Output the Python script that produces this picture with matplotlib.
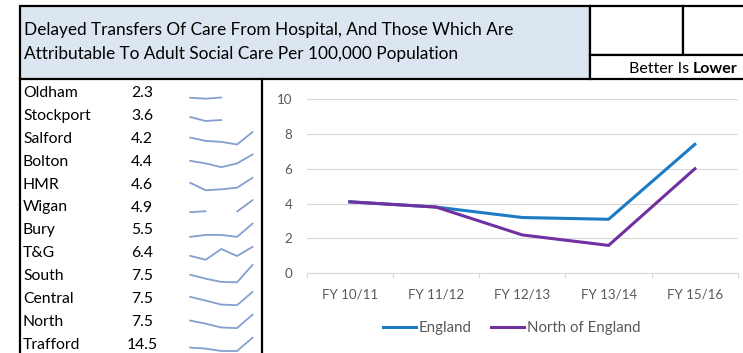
import numpy as np
import matplotlib.pyplot as plt
from matplotlib.patches import Rectangle

plt.rcParams['font.family'] = ['Lato', 'DejaVu Sans']

W, H = 743, 353

# ---------------- data ----------------
title_lines = ['Delayed Transfers Of Care From Hospital, And Those Which Are',
               'Attributable To Adult Social Care Per 100,000 Population']

areas = ['Oldham', 'Stockport', 'Salford', 'Bolton', 'HMR', 'Wigan',
         'Bury', 'T&G', 'South', 'Central', 'North', 'Trafford']
latest = ['2.3', '3.6', '4.2', '4.4', '4.6', '4.9',
          '5.5', '6.4', '7.5', '7.5', '7.5', '14.5']

# sparkline trend per area (relative units, nan = no data)
nan = np.nan
spark_trend = [
    [2.4, 1.9, 2.5, nan, nan],
    [4.2, 2.2, 2.7, nan, nan],
    [5.4, 3.7, 3.2, 1.9, 8.2],
    [5.2, 3.9, 2.0, 3.9, 8.4],
    [5.7, 1.9, 2.4, 3.2, 8.2],
    [2.4, 2.9, nan, 2.7, 8.5],
    [1.5, 2.5, 2.5, 1.5, 8.2],
    [3.5, 1.5, 6.9, 3.4, 8.0],
    [5.5, 3.5, 1.9, 1.7, 10.5],
    [5.9, 4.0, 2.0, 1.7, 8.4],
    [5.5, 3.9, 2.0, 1.7, 8.5],
    [3.4, 2.9, 1.7, 1.7, 8.4],
]

years = ['FY 10/11', 'FY 11/12', 'FY 12/13', 'FY 13/14', 'FY 15/16']
england = [4.1, 3.8, 3.2, 3.1, 7.4]
north_england = [4.1, 3.8, 2.2, 1.6, 6.0]

# ---------------- layout helpers ----------------
fig = plt.figure(figsize=(W / 100, H / 100), dpi=100)


def px_axes(x0, y0, x1, y1):
    return fig.add_axes([x0 / W, 1 - y1 / H, (x1 - x0) / W, (y1 - y0) / H])


ov = fig.add_axes([0, 0, 1, 1], zorder=0)
ov.set_xlim(0, W)
ov.set_ylim(H, 0)
ov.axis('off')

# header boxes
ov.add_patch(Rectangle((20, 6), 570, 73, facecolor='#DCE6F1', edgecolor='black', lw=1.6))
ov.add_patch(Rectangle((590, 6), 93, 49, facecolor='white', edgecolor='black', lw=1.6))
ov.add_patch(Rectangle((683, 6), 70, 49, facecolor='white', edgecolor='black', lw=1.6))
ov.add_patch(Rectangle((590, 55), 163, 24, facecolor='white', edgecolor='black', lw=1.6))
ov.plot([20, 20], [79, H + 2], color='black', lw=1.6)
ov.plot([262, 262], [79, H + 2], color='black', lw=1.6)

ov.text(24, 30, title_lines[0], fontsize=12.4, va='center', ha='left')
ov.text(24, 54, title_lines[1], fontsize=12.4, va='center', ha='left')
better = ov.text(738, 69, 'Better Is ', fontsize=11.5, va='center', ha='right')
lower = ov.text(738, 69, 'Lower', fontsize=11.5, va='center', ha='right', fontweight='bold')
# put "Better Is " just left of bold "Lower"
fig.canvas.draw()
bb = lower.get_window_extent()
better.set_position((738 - bb.width, 69))

# ---------------- table ----------------
for i, (name, val, trend) in enumerate(zip(areas, latest, spark_trend)):
    c = 93 + 22.9 * i
    ov.text(23, c, name, fontsize=11.3, va='center', ha='left')
    ov.text(142, c, val, fontsize=11.3, va='center', ha='center')
    sa = px_axes(190, c - 12.5, 252.7, c + 9.5)
    sa.plot(range(5), trend, color='#849FCF', lw=1.3, clip_on=False,
            solid_capstyle='round', solid_joinstyle='round')
    sa.set_xlim(0, 4)
    sa.set_ylim(0, 11)
    sa.axis('off')

# ---------------- main chart ----------------
ax = px_axes(306.7, 99, 738, 273.3)
x = np.arange(len(years))
ax.plot(x, england, color='#1C7BC3', lw=2.2, label='England', solid_joinstyle='round')
ax.plot(x, north_england, color='#7030A0', lw=2.2, label='North of England',
        solid_joinstyle='round')
ax.set_xlim(-0.5, len(years) - 0.5)
ax.set_ylim(0, 10)
ax.set_yticks(range(0, 11, 2))
ax.grid(axis='y', color='#D9D9D9', lw=0.8)
ax.set_axisbelow(True)
for s in ['top', 'right', 'left']:
    ax.spines[s].set_visible(False)
ax.spines['bottom'].set_color('#D9D9D9')
ax.spines['bottom'].set_linewidth(0.8)
ax.set_xticks(x)
ax.set_xticklabels(years)
ax.set_xticks(np.arange(-0.5, len(years)), minor=True)
ax.tick_params(axis='x', which='major', length=0, pad=11, labelsize=9.6, labelcolor='#595959')
ax.tick_params(axis='x', which='minor', length=3.6, color='#D9D9D9', width=0.8)
ax.tick_params(axis='y', length=0, pad=10.5, labelsize=9.6, labelcolor='#595959')

fig.legend(loc='center', bbox_to_anchor=(512 / W, 1 - 328 / H), ncol=2, frameon=False,
           fontsize=10.8, handlelength=2.2, handletextpad=0.2, columnspacing=1.3,
           labelcolor='#595959')

fig.savefig('out.png', dpi=100)
